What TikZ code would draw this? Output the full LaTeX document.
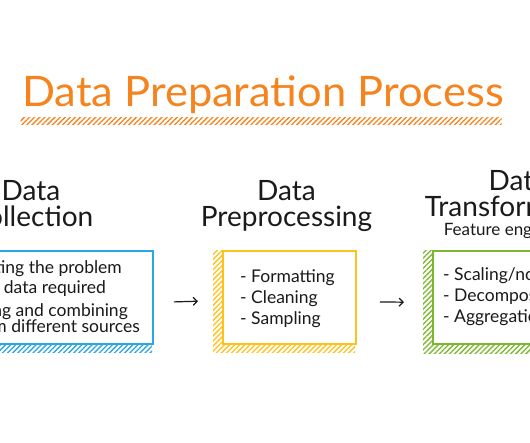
\documentclass[tikz,border=0pt]{standalone}
\usepackage{fontspec}
\setmainfont{Lato}
\usetikzlibrary{patterns.meta,arrows.meta}
\definecolor{ttl}{HTML}{F5841F}
\definecolor{cblue}{HTML}{2AA7E1}
\definecolor{cyell}{HTML}{FFC21A}
\definecolor{cgreen}{HTML}{7CB82F}
\definecolor{ink}{HTML}{1A1A1A}
\begin{document}
\begin{tikzpicture}[x=1pt,y=-1pt,
  hatch/.style={pattern={Lines[angle=45,distance=3.6pt,line width=1.3pt]}, pattern color=#1, inner sep=0, anchor=north west},
  boxed/.style={draw=#1, line width=1.8pt, fill=white, inner sep=0, anchor=north west},
  headfont/.style={font=\fontsize{28}{28}\selectfont, text=ink, anchor=base, inner sep=0},
  subfont/.style={font=\fontsize{17}{17}\selectfont, text=ink, anchor=base, inner sep=0},
  item/.style={font=\fontsize{17.5}{18}\selectfont, text=ink, anchor=base west, inner sep=0},
  itemr/.style={font=\fontsize{17.5}{18}\selectfont, text=ink, anchor=base east, inner sep=0},
  arr/.style={draw=ink, line width=1.2pt, -{Straight Barb[length=4pt,width=8pt]}}]
\useasboundingbox (0,0) rectangle (530,442);
\clip (0,0) rectangle (530,442);
\fill[white] (0,0) rectangle (530,442);
% title
\node[anchor=base west, text=ttl, font=\fontsize{42}{42}\selectfont, inner sep=0, xscale=1.035] (title) at (22,106) {Data Preparation Process};
\node[hatch=ttl, minimum width=481pt, minimum height=7pt] (band) at (20,117) {};
% column 1
\node[headfont] (h1a) at (31,200) {Data};
\node[headfont] (h1b) at (31,226) {Collection};
\node[hatch=cblue, minimum width=162pt, minimum height=102pt] (s1) at (-10,250) {};
\node[boxed=cblue, minimum width=162pt, minimum height=93pt] (b1) at (-10,250) {};
\node[itemr] (t1a) at (122,273) {- Formulating the problem};
\node[itemr] (t1b) at (106,293) {- Identifying data required};
\node[itemr] (t1c) at (128,316) {- Gathering and combining};
\node[itemr] (t1d) at (140,332) {data from different sources};
% column 2
\node[headfont] (h2a) at (286.5,200) {Data};
\node[headfont] (h2b) at (286.5,226) {Preprocessing};
\node[hatch=cyell, minimum width=142pt, minimum height=102pt] (s2) at (213,250) {};
\node[boxed=cyell, minimum width=133pt, minimum height=93pt] (b2) at (222,250) {};
\node[item] (t2a) at (240,282) {- Formatting};
\node[item] (t2b) at (240,303) {- Cleaning};
\node[item] (t2c) at (240,324) {- Sampling};
% column 3
\node[headfont] (h3a) at (518,190) {Data};
\node[headfont] (h3b) at (518,216) {Transformation};
\node[subfont] (h3c) at (518,235) {Feature engineering};
\node[hatch=cgreen, minimum width=142pt, minimum height=103pt] (s3) at (423,250) {};
\node[boxed=cgreen, minimum width=133pt, minimum height=93pt] (b3) at (432,250) {};
\node[item] (t3a) at (443,280) {- Scaling/normalization};
\node[item] (t3b) at (443,301) {- Decomposition};
\node[item] (t3c) at (443,322) {- Aggregation};
% arrows
\draw[arr] ([xshift=20pt,yshift=-4.5pt]b1.east) -- ([xshift=-15pt]s2.west);
\draw[arr] ([xshift=23pt,yshift=-4.5pt]b2.east) -- ([xshift=-19pt,yshift=-0.5pt]s3.west);
\end{tikzpicture}
\end{document}
